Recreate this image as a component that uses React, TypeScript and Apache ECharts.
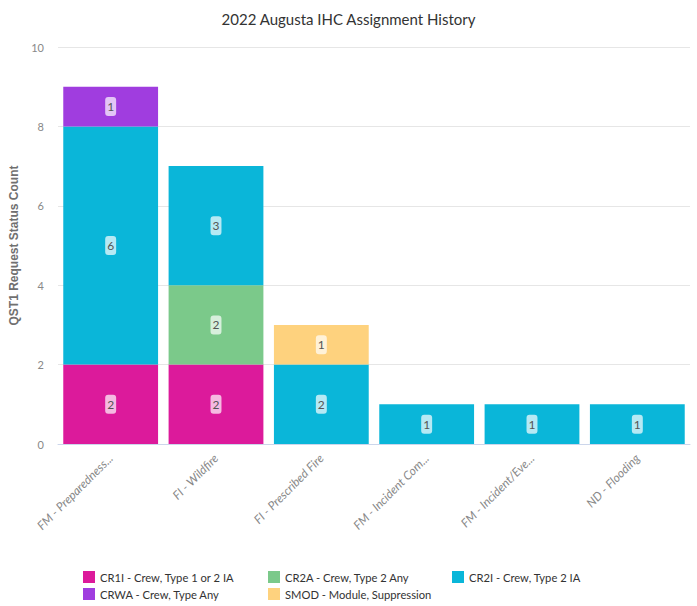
import React, { useEffect, useRef } from "react";
import * as echarts from "echarts";

const categories = [
  "FM - Preparedness...",
  "FI - Wildfire",
  "FI - Prescribed Fire",
  "FM - Incident Com...",
  "FM - Incident/Eve...",
  "ND - Flooding",
];
const cr1i = [2, 2, null, null, null, null];
const cr2a = [null, 2, null, null, null, null];
const cr2i = [6, 3, 2, 1, 1, 1];
const crwa = [1, null, null, null, null, null];
const smod = [null, null, 1, null, null, null];

const seriesDefs = [
  { name: "CR1I - Crew, Type 1 or 2 IA", data: cr1i, color: "#dc1a9b" },
  { name: "CR2A - Crew, Type 2 Any", data: cr2a, color: "#7bc98a" },
  { name: "CR2I - Crew, Type 2 IA", data: cr2i, color: "#0ab6d9" },
  { name: "CRWA - Crew, Type Any", data: crwa, color: "#a03ddf" },
  { name: "SMOD - Module, Suppression", data: smod, color: "#fed27e" },
];

const FONT = "Lato, 'Open Sans', sans-serif";

export default function App() {
  const ref = useRef<HTMLDivElement>(null);
  useEffect(() => {
    if (!ref.current) return;
    const chart = echarts.init(ref.current, undefined, { renderer: "svg" });
    const legendBase = {
      orient: "vertical" as const,
      top: 571,
      padding: 0,
      itemWidth: 12,
      itemHeight: 12,
      itemGap: 5,
      icon: "rect",
      textStyle: { color: "#333", fontSize: 11.2, fontFamily: FONT },
    };
    chart.setOption({
      animation: false,
      textStyle: { fontFamily: FONT },
      title: {
        text: "2022 Augusta IHC Assignment History",
        left: "center",
        top: 6,
        textStyle: { fontSize: 15, fontWeight: "normal", color: "#333", fontFamily: FONT },
      },
      grid: { left: 58, right: 7, top: 47, bottom: 162 },
      legend: [
        { ...legendBase, left: 83, data: [seriesDefs[0].name, seriesDefs[3].name] },
        { ...legendBase, left: 268, data: [seriesDefs[1].name, seriesDefs[4].name] },
        { ...legendBase, left: 452, data: [seriesDefs[2].name] },
      ],
      xAxis: {
        type: "category",
        data: categories,
        axisLine: { lineStyle: { color: "#ccd6eb" } },
        axisTick: { show: false },
        axisLabel: {
          rotate: 45,
          color: "#888",
          fontSize: 12,
          fontStyle: "italic",
          fontFamily: FONT,
          margin: 12,
          interval: 0,
        },
      },
      yAxis: {
        type: "value",
        min: 0,
        max: 10,
        interval: 2,
        name: "QST1 Request Status Count",
        nameLocation: "middle",
        nameGap: 31,
        nameTextStyle: {
          color: "#707070",
          fontSize: 12,
          fontWeight: "bold",
          fontFamily: "'Liberation Sans', Arial, sans-serif",
        },
        axisLabel: { color: "#888", fontSize: 11, fontFamily: FONT, margin: 14 },
        splitLine: { lineStyle: { color: "#e6e6e6" } },
      },
      series: seriesDefs.map((s) => ({
        name: s.name,
        type: "bar",
        stack: "total",
        data: s.data,
        barCategoryGap: "10%",
        itemStyle: { color: s.color },
        label: {
          show: true,
          position: "inside",
          color: "#555",
          fontSize: 12,
          fontFamily: FONT,
          backgroundColor: "rgba(255,255,255,0.7)",
          borderRadius: 3,
          padding: [4, 2, 3, 2],
        },
      })),
    });
    return () => chart.dispose();
  }, []);
  return <div ref={ref} style={{ width: 697, height: 606, position: "absolute", left: 0, top: 0 }} />;
}
